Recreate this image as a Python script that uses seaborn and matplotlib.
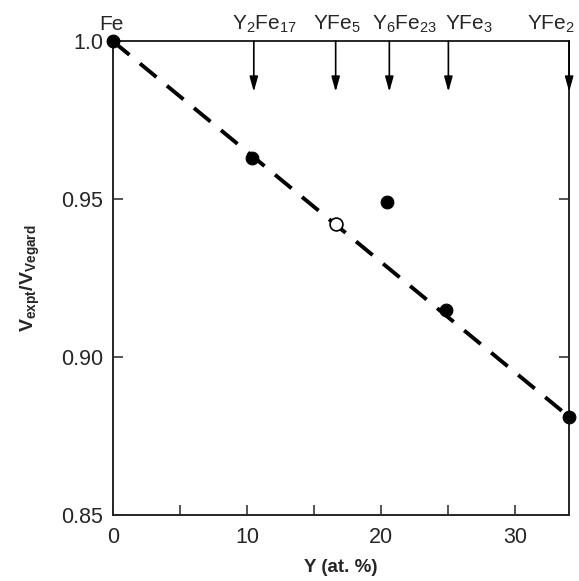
import matplotlib
matplotlib.use("Agg")
import matplotlib.pyplot as plt
import numpy as np
import pandas as pd
import seaborn as sns

# measured points (Y at.% , Vexpt/Vvegard)
y_pct = [0.0, 10.4, 20.4, 24.8, 34.0]
v_ratio = [1.000, 0.963, 0.949, 0.915, 0.881]
open_x = [16.6]
open_y = [0.942]

# Vegard line
line_x = [0.0, 34.0]
line_y = [1.000, 0.881]

# compounds marked on top
comp_names = ["Fe", "Y$_2$Fe$_{17}$", "YFe$_5$", "Y$_6$Fe$_{23}$", "YFe$_3$", "YFe$_2$"]
comp_x = [0.0, 10.5, 16.6, 20.6, 25.0, 34.0]
label_shift = [-1, 8, 1, 11, 15, -13]  # points, to keep labels apart

sns.set_style("ticks")
plt.rcParams['font.family'] = ['Liberation Sans', 'DejaVu Sans']
plt.rcParams['mathtext.fontset'] = 'custom'
plt.rcParams['mathtext.rm'] = 'Liberation Sans'
plt.rcParams['mathtext.it'] = 'Liberation Sans'
plt.rcParams['mathtext.bf'] = 'Liberation Sans:bold'

fig = plt.figure(figsize=(5.79, 5.81), dpi=100)
ax = fig.add_axes([0.195, 0.114, 0.788, 0.815])

df_line = pd.DataFrame({"x": line_x, "y": line_y})
sns.lineplot(data=df_line, x="x", y="y", ax=ax, color="black", lw=2.8,
             dashes=False, linestyle=(0, (5.5, 3.5)))
df_pts = pd.DataFrame({"x": y_pct, "y": v_ratio})
sns.scatterplot(data=df_pts, x="x", y="y", ax=ax, color="black", s=85,
                edgecolor="black", zorder=5, clip_on=False)
df_open = pd.DataFrame({"x": open_x, "y": open_y})
sns.scatterplot(data=df_open, x="x", y="y", ax=ax, facecolor="white", s=85,
                edgecolor="black", linewidth=1.2, zorder=5)

ax.set_xlim(0, 34)
ax.set_ylim(0.85, 1.0)
ax.set_xticks(np.arange(0, 35, 5))
ax.set_xticklabels(["0", "", "10", "", "20", "", "30"])
ax.set_yticks([0.85, 0.90, 0.95, 1.0])
ax.set_yticklabels(["0.85", "0.90", "0.95", "1.0"])
ax.tick_params(axis="both", direction="in", length=7, width=1.1, labelsize=15.5,
               right=True, top=False)
ax.tick_params(axis="x", pad=9)
ax.tick_params(axis="y", pad=7)
for sp in ax.spines.values():
    sp.set_linewidth(1.4)

for name, cx, dx in zip(comp_names, comp_x, label_shift):
    if cx > 0:
        ax.annotate("", xy=(cx, 0.984), xytext=(cx, 1.0),
                    arrowprops=dict(arrowstyle="-|>,head_width=0.25,head_length=0.9",
                                    color="black", lw=1.2, shrinkA=0, shrinkB=0))
    ax.annotate(name, xy=(cx, 1.0), xytext=(dx, 8), textcoords="offset points",
                ha="center", va="baseline", fontsize=15, annotation_clip=False)

ax.set_xlabel("Y (at. %)", fontsize=13.5, fontweight="bold", labelpad=8)
ax.set_ylabel("$\\mathbf{V_{expt}/V_{Vegard}}$", fontsize=14, labelpad=14)

fig.savefig("out.png", dpi=100)
